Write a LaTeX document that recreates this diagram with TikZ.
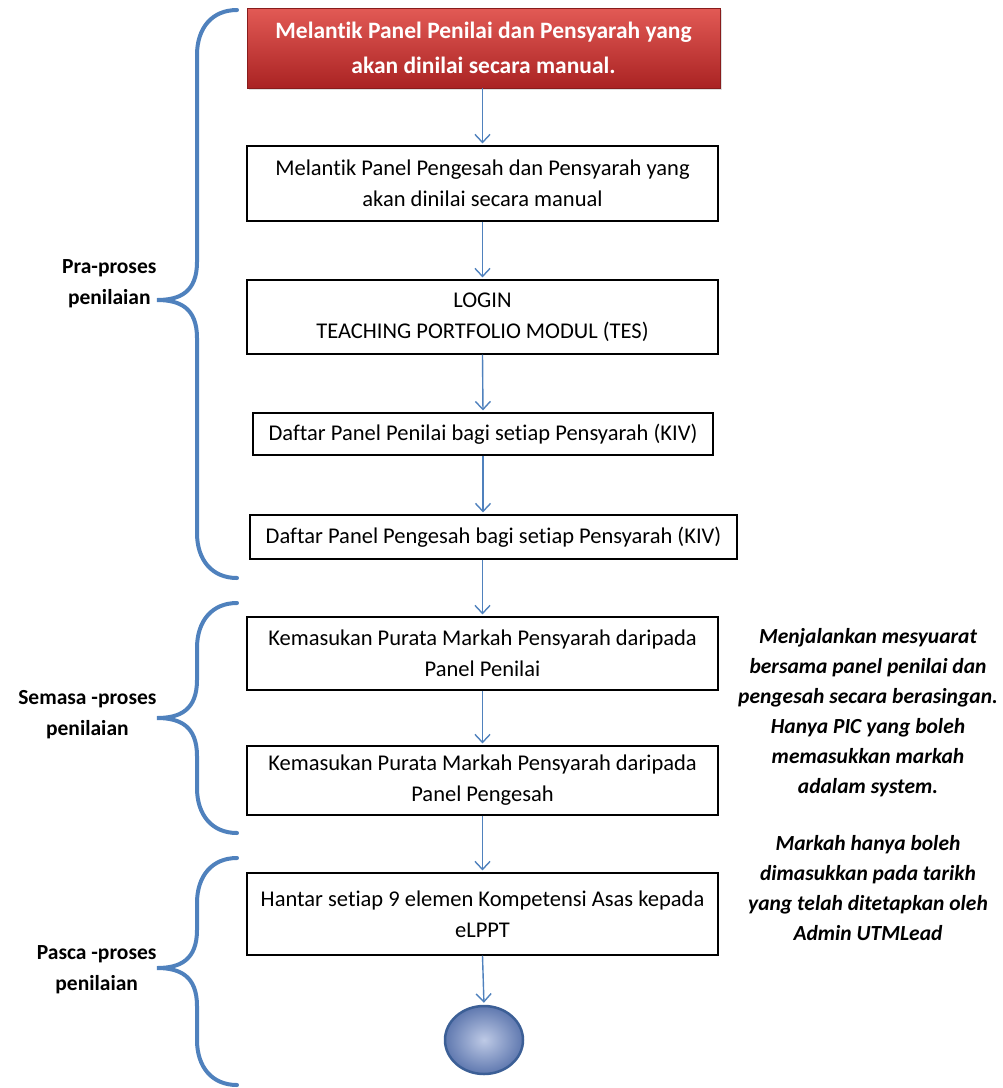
\documentclass[tikz,border=0pt]{standalone}
\usepackage{fontspec}
\setmainfont{Carlito}[Ligatures={NoCommon}]
\usetikzlibrary{arrows.meta,shapes.geometric,shadows}
\definecolor{arrowblue}{HTML}{4F81BD}
\definecolor{braceblue}{HTML}{4F81BD}
\definecolor{redtop}{RGB}{226,90,85}
\definecolor{redbot}{RGB}{170,35,35}
\definecolor{ballin}{RGB}{190,202,230}
\definecolor{ballout}{RGB}{95,120,175}
\definecolor{ballrim}{RGB}{60,95,150}
\begin{document}
\begin{tikzpicture}[x=1pt,y=-1pt,
  box/.style={draw=black, line width=1.1pt, fill=white, align=center, inner sep=0pt,
    font=\fontsize{22.5}{31}\selectfont},
  redbox/.style={draw=redbot!80!black, line width=0.6pt, top color=redtop, bottom color=redbot,
    text=white, align=center, inner sep=0pt, font=\bfseries\fontsize{23.5}{35}\selectfont,
    drop shadow={opacity=0.25, shadow xshift=1.5pt, shadow yshift=-1.5pt}},
  arr/.style={draw=arrowblue, line width=1.4pt, shorten >=2pt,
    -{Straight Barb[length=8pt,width=15pt,line width=1.4pt]}},
  brace/.style={draw=braceblue, line width=4pt, line cap=round},
  lab/.style={font=\bfseries\fontsize{21.5}{31}\selectfont, align=center, anchor=east},
  note/.style={font=\bfseries\itshape\fontsize{21.5}{30}\selectfont, align=center},
]
\useasboundingbox (0,0) rectangle (1003,1088);

% boxes
\node[redbox, minimum width=473pt, minimum height=80pt] (r1) at (483.5,48)
  {Melantik Panel Penilai dan Pensyarah yang\\akan dinilai secara manual.};
\node[box, minimum width=471pt, minimum height=75pt] (b2) at (482.5,183.5)
  {Melantik Panel Pengesah dan Pensyarah yang\\akan dinilai secara manual};
\node[box, minimum width=471pt, minimum height=74pt] (b3) at (482.5,317)
  {LOGIN\\TEACHING PORTFOLIO MODUL (TES)};
\node[box, minimum width=460pt, minimum height=42pt] (b4) at (483,434)
  {Daftar Panel Penilai bagi setiap Pensyarah (KIV)};
\node[box, minimum width=487pt, minimum height=44pt] (b5) at (493.5,537)
  {Daftar Panel Pengesah bagi setiap Pensyarah (KIV)};
\node[box, minimum width=471pt, minimum height=73pt] (b6) at (482.5,653.5)
  {Kemasukan Purata Markah Pensyarah daripada\\Panel Penilai};
\node[box, minimum width=471pt, minimum height=69pt] (b7) at (482.5,780.5)
  {Kemasukan Purata Markah Pensyarah daripada\\Panel Pengesah};
\node[box, minimum width=471pt, minimum height=82pt] (b8) at (482.5,914)
  {Hantar setiap 9 elemen Kompetensi Asas kepada\\eLPPT};
\node[ellipse, draw=ballrim, line width=2.5pt, inner color=ballin, outer color=ballout,
  minimum width=78pt, minimum height=68pt, inner sep=0pt] (end) at (484,1040) {};

% connectors
\draw[arr] (r1.south -| b2.north) -- (b2.north);
\draw[arr] (b2.south) -- (b3.north);
\draw[arr] (b3.south) -- (b4.north);
\draw[arr] (b4.south) -- (b4.south |- b5.north);
\draw[arr] (b6.north |- b5.south) -- (b6.north);
\draw[arr] (b6.south) -- (b7.north);
\draw[arr] (b7.south) -- (b8.north);
\draw[arr] (b8.south) -- (end.north);

% braces
\draw[brace] (237,10) .. controls (212,10) and (197,28) .. (197,55)
  -- (197,262) .. controls (197,292) and (180,300) .. (157,300)
  .. controls (180,300) and (197,308) .. (197,338)
  -- (197,533) .. controls (197,560) and (212,578) .. (237,578);
\draw[brace] (237,603) .. controls (212,603) and (197,621) .. (197,648)
  -- (197,680) .. controls (197,710) and (180,718) .. (157,718)
  .. controls (180,718) and (197,726) .. (197,756)
  -- (197,788) .. controls (197,815) and (212,833) .. (237,833);
\draw[brace] (237,858) .. controls (212,858) and (197,876) .. (197,903)
  -- (197,930) .. controls (197,960) and (180,968) .. (157,968)
  .. controls (180,968) and (197,976) .. (197,1006)
  -- (197,1040) .. controls (197,1067) and (212,1085) .. (237,1085);

% labels
\node[lab] (l1) at (160,284) {Pra-proses\\penilaian};
\node[lab] (l2) at (160,715) {Semasa -proses\\penilaian};
\node[lab] (l3) at (160,970) {Pasca -proses\\penilaian};

% notes
\node[note] (n1) at (868,713) {Menjalankan mesyuarat\\bersama panel penilai dan\\pengesah secara berasingan.\\Hanya PIC yang boleh\\memasukkan markah\\adalam system.};
\node[note] (n2) at (868,888) {Markah hanya boleh\\dimasukkan pada tarikh\\yang telah ditetapkan oleh\\Admin UTMLead};
\end{tikzpicture}
\end{document}
